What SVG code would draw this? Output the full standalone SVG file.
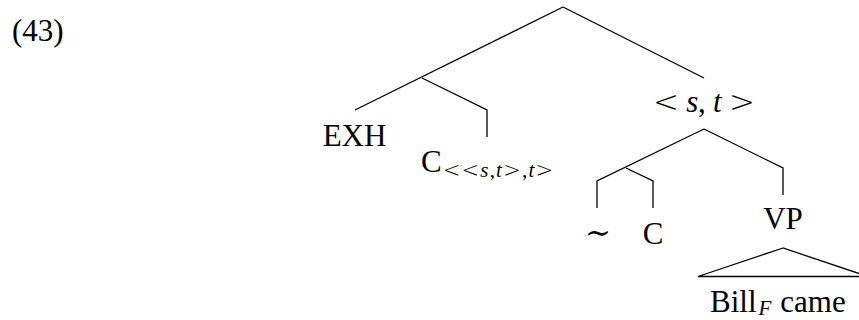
<svg xmlns="http://www.w3.org/2000/svg" width="859" height="320" viewBox="0 0 859 320">
  <style>
    text { font-family: "Liberation Serif", "DejaVu Serif", serif; fill: #000; }
    .lbl { font-size: 31px; }
    .sub { font-size: 21px; }
    .it { font-style: italic; }
    .rel { font-family: "DejaVu Sans", sans-serif; font-weight: 300; }
    .edge { fill: none; stroke: #000; stroke-width: 1.3; stroke-linejoin: miter; }
  </style>
  <rect width="859" height="320" fill="#fff"/>

  <!-- example number -->
  <text class="lbl" x="12" y="41">(43)</text>

  <!-- tree branches -->
  <g id="connectors">
    <path class="edge" d="M563,7 L355,110"/>
    <path class="edge" d="M422,78 L487,110 L487,137"/>
    <path class="edge" d="M563,7 L704,78"/>
    <path class="edge" d="M704,129 L597,181 L597,208"/>
    <path class="edge" d="M626,168 L653,181 L653,208"/>
    <path class="edge" d="M704,129 L783,168 L783,195"/>
    <polygon class="edge" points="783,248 698,276.5 868,276.5"/>
  </g>

  <g id="node-exh">
    <text class="lbl" x="354.5" y="146" text-anchor="middle">EXH</text>
  </g>

  <g id="node-c-type">
    <text class="lbl" x="421" y="172">C<tspan class="sub" dx="1" dy="5" letter-spacing="1.2"><tspan class="rel">&lt;&lt;</tspan><tspan class="it">s</tspan>,<tspan class="it">t</tspan><tspan class="rel">&gt;</tspan>,<tspan class="it">t</tspan><tspan class="rel">&gt;</tspan></tspan></text>
  </g>

  <g id="node-st">
    <text class="lbl" x="653" y="112" textLength="102" lengthAdjust="spacing"><tspan class="rel">&lt;</tspan> <tspan class="it">s</tspan>, <tspan class="it">t</tspan> <tspan class="rel">&gt;</tspan></text>
  </g>

  <g id="node-tilde">
    <text class="lbl" x="598" y="243" text-anchor="middle">∼</text>
  </g>

  <g id="node-c">
    <text class="lbl" x="653" y="244" text-anchor="middle">C</text>
  </g>

  <g id="node-vp">
    <text class="lbl" x="783" y="229" text-anchor="middle">VP</text>
  </g>

  <g id="node-bill-came">
    <text class="lbl" x="710" y="312">Bill<tspan class="sub it" dx="2" dy="3">F</tspan><tspan dx="9" dy="-3">came</tspan></text>
  </g>
</svg>
